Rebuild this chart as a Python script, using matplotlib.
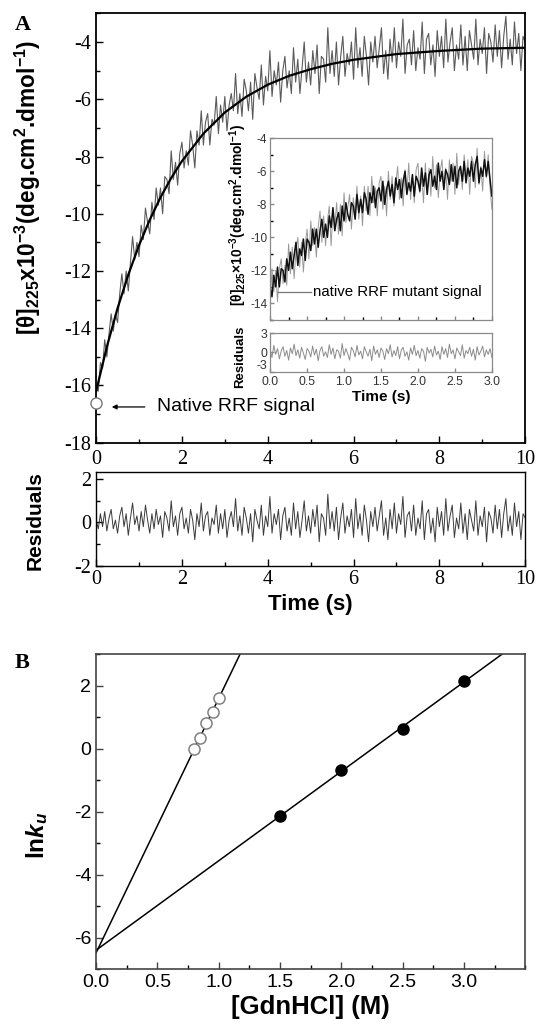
import numpy as np
import matplotlib.pyplot as plt
from matplotlib.ticker import MultipleLocator

plt.rcParams['font.family'] = ['Liberation Sans', 'DejaVu Sans']
plt.rcParams['axes.unicode_minus'] = False
plt.rcParams['mathtext.fontset'] = 'custom'
plt.rcParams['mathtext.rm'] = 'Liberation Sans'
plt.rcParams['mathtext.it'] = 'Liberation Sans:italic'
plt.rcParams['mathtext.bf'] = 'Liberation Sans:bold'
plt.rcParams['mathtext.bfit'] = 'Liberation Sans:italic:bold'

SERIF = 'Liberation Serif'

# ---- panel A: unfolding trace of native RRF (0-10 s) ----
time_a = np.linspace(0, 10, 201)
trace_a = [
    -16.1, -16.2, -15.2, -15.4, -14.4, -15.0, -14.2, -13.5, -14.1, -13.5,
    -13.8, -12.8, -12.1, -12.8, -12.0, -12.7, -11.7, -10.8, -11.6, -11.0,
    -11.5, -10.4, -10.9, -9.8, -10.3, -10.7, -9.6, -10.2, -9.1, -9.7,
    -9.1, -10.0, -8.7, -8.8, -9.3, -7.8, -8.8, -8.2, -9.0, -7.9,
    -7.5, -8.4, -7.8, -8.3, -7.1, -7.6, -8.4, -7.1, -7.6, -6.4,
    -7.6, -6.8, -6.5, -7.6, -6.7, -6.9, -5.9, -7.2, -6.2, -6.8,
    -5.9, -7.1, -6.2, -5.8, -6.4, -5.1, -6.5, -5.8, -6.6, -5.3,
    -5.7, -6.4, -5.4, -6.7, -5.1, -5.6, -6.0, -4.8, -6.2, -5.2,
    -5.7, -4.3, -5.9, -5.0, -5.5, -4.7, -6.1, -5.0, -4.5, -5.6,
    -5.0, -5.8, -4.2, -5.4, -4.6, -5.8, -4.9, -4.0, -5.4, -4.7,
    -5.5, -4.3, -5.1, -4.1, -5.8, -4.5, -4.6, -5.4, -3.5, -5.1,
    -4.3, -5.2, -4.0, -5.5, -4.5, -3.8, -5.2, -4.4, -4.8, -4.0,
    -5.3, -3.5, -4.9, -4.2, -5.2, -3.8, -4.5, -5.5, -4.0, -4.7,
    -3.8, -4.9, -4.2, -3.5, -5.1, -4.3, -5.3, -3.9, -4.7, -3.5,
    -4.9, -4.0, -4.5, -3.2, -5.1, -4.1, -3.9, -4.8, -3.6, -5.0,
    -4.2, -4.6, -3.3, -5.1, -3.9, -3.7, -4.8, -4.1, -5.2, -3.6,
    -4.5, -3.8, -4.9, -3.2, -4.7, -4.0, -3.5, -5.0, -4.1, -4.6,
    -3.4, -4.8, -3.8, -5.0, -3.6, -4.1, -4.6, -3.2, -4.8, -3.9,
    -4.4, -3.5, -5.1, -3.7, -4.0, -4.7, -3.4, -4.5, -3.6, -4.9,
    -3.8, -3.1, -4.6, -3.9, -4.8, -3.3, -4.4, -3.7, -5.0, -3.8,
    -4.0]
fit_t = [0, 0.25, 0.5, 0.75, 1, 1.25, 1.5, 1.75, 2, 2.5, 3, 3.5, 4, 4.5,
         5, 5.5, 6, 7, 8, 9, 10]
fit_y = [-16.2, -14.65, -13.3, -12.13, -11.1, -10.21, -9.43, -8.75, -8.16,
         -7.2, -6.46, -5.91, -5.49, -5.18, -4.95, -4.76, -4.62, -4.42, -4.31,
         -4.23, -4.2]
resid_a = [
    0.1, -0.3, 0.4, -0.2, 0.5, -0.4, 0.2, 0.6, -0.3, 0.1,
    -0.5, 0.3, 0.7, -0.2, 0.4, -0.6, 0.2, 0.9, -0.1, 0.3,
    -0.4, 0.5, -0.2, 0.8, 0.1, -0.5, 0.4, -0.3, 0.6, -0.1,
    0.3, -0.7, 0.5, 0.2, -0.4, 1.0, -0.2, 0.3, -0.6, 0.4,
    0.7, -0.3, 0.2, -0.5, 0.6, 0.1, -0.8, 0.4, -0.2, 0.9,
    -0.4, 0.3, 0.5, -0.6, 0.2, -0.1, 0.8, -0.5, 0.4, -0.3,
    0.6, -0.7, 0.1, 0.5, -0.2, 1.1, -0.4, 0.3, -0.6, 0.7,
    0.2, -0.5, 0.4, -0.9, 0.6, 0.1, -0.3, 0.8, -0.6, 0.3,
    -0.2, 1.2, -0.5, 0.4, -0.1, 0.6, -0.8, 0.3, 0.7, -0.4,
    0.2, -0.6, 0.9, -0.3, 0.5, -0.7, 0.1, 1.0, -0.4, 0.3,
    -0.5, 0.6, -0.2, 0.8, -0.9, 0.4, 0.2, -0.6, 1.3, -0.3,
    0.5, -0.4, 0.7, -0.8, 0.2, 0.9, -0.5, 0.3, -0.2, 0.6,
    -0.7, 1.1, -0.3, 0.4, -0.6, 0.8, 0.1, -0.9, 0.5, -0.2,
    0.7, -0.4, 0.3, 1.0, -0.6, 0.2, -0.8, 0.6, -0.3, 0.9,
    -0.5, 0.4, -0.1, 1.2, -0.7, 0.3, 0.5, -0.4, 0.8, -0.6,
    0.2, -0.3, 1.0, -0.8, 0.4, 0.6, -0.5, 0.2, -0.9, 0.7,
    -0.2, 0.5, -0.6, 1.1, -0.4, 0.3, 0.8, -0.7, 0.2, -0.3,
    0.9, -0.5, 0.4, -0.8, 0.6, 0.1, -0.4, 1.0, -0.6, 0.3,
    -0.2, 0.7, -0.9, 0.5, 0.2, -0.5, 0.8, -0.3, 0.6, -0.7,
    0.4, 1.1, -0.4, 0.3, -0.6, 0.9, -0.2, 0.5, -0.8, 0.4,
    0.2]
native_t = [0.0]
native_y = [-16.6]

# ---- inset: native RRF mutant (0-3 s) ----
time_i = np.linspace(0, 3, 121)
trace_i_gray = [
    -14.2, -11.9, -13.3, -12.0, -13.9, -11.9, -11.3, -12.8, -11.7, -12.9,
    -10.4, -12.2, -10.6, -12.5, -10.8, -10.0, -11.8, -10.3, -12.1, -10.4,
    -9.5, -11.3, -9.0, -10.5, -9.4, -11.2, -9.4, -8.4, -10.3, -8.7,
    -10.5, -9.0, -8.1, -10.5, -8.5, -9.3, -7.9, -9.8, -8.0, -9.9,
    -7.3, -9.1, -8.2, -7.4, -9.5, -7.6, -8.6, -6.9, -8.9, -7.5,
    -9.3, -6.9, -8.4, -6.9, -8.7, -6.3, -7.9, -7.0, -8.7, -6.7,
    -6.3, -8.3, -6.9, -8.7, -6.0, -7.7, -6.3, -8.1, -6.8, -5.7,
    -7.7, -6.4, -8.1, -5.9, -7.3, -5.5, -7.7, -6.3, -7.9, -5.9,
    -5.5, -7.3, -6.3, -7.9, -5.5, -7.4, -5.8, -7.5, -5.1, -7.0,
    -5.6, -7.6, -6.0, -5.3, -7.1, -5.8, -7.7, -5.3, -6.6, -5.5,
    -7.4, -4.9, -6.8, -5.7, -7.1, -5.0, -6.5, -5.3, -7.4, -5.1,
    -5.5, -7.0, -4.6, -6.8, -5.7, -7.2, -4.8, -6.4, -5.0, -7.0,
    -8.3]
trace_i_black = [
    -13.0, -13.6, -12.3, -13.0, -11.8, -13.0, -11.9, -12.0, -12.7, -11.3,
    -12.0, -10.9, -11.9, -11.1, -10.3, -11.7, -10.7, -11.1, -10.1, -11.4,
    -10.1, -10.3, -10.8, -9.5, -10.4, -9.5, -10.6, -9.6, -8.9, -10.0,
    -9.2, -10.0, -8.7, -9.4, -8.2, -9.6, -8.9, -8.5, -9.6, -8.1,
    -9.0, -7.9, -8.6, -9.0, -7.9, -8.1, -8.9, -7.4, -8.5, -7.7,
    -8.5, -7.3, -7.7, -8.6, -7.3, -7.9, -6.9, -8.2, -7.2, -7.0,
    -7.8, -6.6, -8.0, -7.1, -6.6, -7.5, -6.8, -7.9, -6.4, -7.1,
    -6.5, -7.6, -6.6, -6.0, -7.4, -6.7, -7.2, -6.2, -7.5, -6.3,
    -6.6, -7.2, -5.8, -6.9, -6.1, -7.4, -6.2, -5.9, -6.9, -6.3,
    -7.1, -5.5, -6.6, -6.0, -7.1, -5.9, -6.2, -6.8, -5.6, -6.6,
    -5.7, -7.0, -6.0, -5.7, -6.6, -5.4, -6.7, -5.8, -6.3, -5.4,
    -6.6, -5.6, -5.1, -6.7, -5.8, -6.3, -5.3, -6.3, -5.4, -6.5,
    -7.5]
resid_i = [
    0.4, -0.8, 1.1, -0.3, 0.6, -1.0, 0.2, 0.9, -0.6, 0.3,
    -1.2, 0.7, -0.2, 1.3, -0.5, 0.4, -0.9, 0.8, -0.1, -1.1,
    0.6, 0.2, -0.7, 1.0, -0.4, 0.5, -1.3, 0.3, 0.9, -0.6,
    0.1, -0.8, 1.2, -0.3, 0.7, -1.0, 0.4, 0.2, -0.9, 1.4,
    -0.5, 0.6, -0.2, -1.2, 0.8, 0.3, -0.7, 1.1, -0.4, 0.2,
    -1.0, 0.9, 0.1, -0.6, 0.5, -1.3, 1.0, -0.3, 0.4, -0.8,
    0.7, 0.2, -1.1, 0.6, -0.2, 1.2, -0.7, 0.3, -0.5, 0.9,
    -1.0, 0.4, 0.8, -0.6, 0.1, -1.2, 0.7, -0.3, 1.1, -0.5,
    0.3, -0.9, 0.6, 0.2, -1.4, 0.8, -0.1, 0.5, -0.7, 1.0,
    -0.4, 0.2, -1.1, 0.9, -0.3, 0.6, -0.8, 1.3, -0.2, 0.4,
    -1.0, 0.7, 0.1, -0.5, 1.2, -0.9, 0.3, -0.2, 0.8, -0.6,
    0.5, -1.2, 0.9, -0.4, 0.2, 1.0, -0.7, 0.4, -0.3, 0.6,
    -0.8]

# ---- panel B: ln ku vs [GdnHCl] ----
gdn_mut = [0.80, 0.85, 0.90, 0.95, 1.00]
lnk_mut = [0.0, 0.35, 0.82, 1.17, 1.61]
gdn_wt = [1.5, 2.0, 2.5, 3.0]
lnk_wt = [-2.15, -0.67, 0.63, 2.15]


def style_ticks(ax, size, family=None, major=5, minor=3):
    ax.tick_params(which='both', direction='in', top=False, right=False)
    ax.tick_params(which='major', length=major, width=1, labelsize=size)
    ax.tick_params(which='minor', length=minor, width=1)
    if family:
        for lab in ax.get_xticklabels() + ax.get_yticklabels():
            lab.set_family(family)


fig = plt.figure(figsize=(5.37, 10.32), dpi=100)

# main trace
axA = fig.add_axes([0.179, 0.571, 0.799, 0.416])
axA.plot(time_a, trace_a, color='#5a5a5a', lw=0.8)
axA.plot(fit_t, fit_y, color='black', lw=1.6)
axA.plot(native_t, native_y, 'o', ms=8, mfc='white', mec='#777777',
         mew=1, clip_on=False, zorder=5)
axA.set_xlim(0, 10)
axA.set_ylim(-18, -3)
axA.xaxis.set_major_locator(MultipleLocator(2))
axA.xaxis.set_minor_locator(MultipleLocator(1))
axA.yaxis.set_major_locator(MultipleLocator(2))
axA.yaxis.set_minor_locator(MultipleLocator(1))
style_ticks(axA, 14.5, SERIF)
axA.tick_params(axis='x', pad=5)
for s in axA.spines.values():
    s.set_linewidth(1.3)
axA.annotate('', xy=(0.3, -16.75), xytext=(1.2, -16.75),
             arrowprops=dict(arrowstyle='-|>', color='black', lw=0.9,
                             mutation_scale=7))
axA.text(1.42, -16.75, 'Native RRF signal', fontsize=14, va='center')

# main residuals
axR = fig.add_axes([0.179, 0.452, 0.799, 0.091])
axR.plot(time_a, resid_a, color='#3a3a3a', lw=0.7)
axR.set_xlim(0, 10)
axR.set_ylim(-2, 2.35)
axR.set_yticks([-2, 0, 2])
axR.xaxis.set_major_locator(MultipleLocator(2))
axR.xaxis.set_minor_locator(MultipleLocator(1))
axR.yaxis.set_minor_locator(MultipleLocator(1))
style_ticks(axR, 14.5, SERIF)
for s in axR.spines.values():
    s.set_linewidth(1.0)

# inset trace
inset_col = '#8a8a8a'
axI = fig.add_axes([0.503, 0.690, 0.413, 0.176])
axI.plot(time_i, trace_i_gray, color='#999999', lw=0.7)
axI.plot(time_i, trace_i_black, color='#111111', lw=1.1)
axI.set_xlim(0, 3)
axI.set_ylim(-15, -4)
axI.set_yticks([-14, -12, -10, -8, -6, -4])
axI.xaxis.set_major_locator(MultipleLocator(0.5))
axI.xaxis.set_minor_locator(MultipleLocator(0.25))
axI.yaxis.set_minor_locator(MultipleLocator(1))
axI.set_xticklabels([])
style_ticks(axI, 8.5, major=3, minor=2)
axI.tick_params(colors=inset_col, labelcolor='#333333', pad=2)
for s in axI.spines.values():
    s.set_color(inset_col)
    s.set_linewidth(0.9)
axI.plot([0.1, 0.55], [-13.3, -13.3], color='#777777', lw=0.9)
axI.text(0.58, -13.3, 'native RRF mutant signal', fontsize=10.8,
         va='center')

# inset residuals
axIR = fig.add_axes([0.503, 0.640, 0.413, 0.037])
axIR.plot(time_i, resid_i, color='#8c8c8c', lw=0.7)
axIR.set_xlim(0, 3)
axIR.set_ylim(-3, 3)
axIR.set_yticks([-3, 0, 3])
axIR.xaxis.set_major_locator(MultipleLocator(0.5))
style_ticks(axIR, 8.8, major=3, minor=2)
axIR.tick_params(colors=inset_col, labelcolor='#333333', pad=2)
axIR.tick_params(axis='x', pad=3.5)
axIR.yaxis.get_major_ticks()[0].label1.set_va('bottom')
for s in axIR.spines.values():
    s.set_color(inset_col)
    s.set_linewidth(0.9)
axIR.set_xlabel('Time (s)', fontsize=11, fontweight='bold', labelpad=1)

# panel B
axB = fig.add_axes([0.179, 0.061, 0.799, 0.305])
xs = np.array([0, 3.5])
k1 = np.polyfit(gdn_mut, lnk_mut, 1)
k2 = np.polyfit(gdn_wt, lnk_wt, 1)
axB.plot(xs, np.polyval(k1, xs), color='black', lw=1.1)
axB.plot(xs, np.polyval(k2, xs), color='black', lw=1.1)
axB.plot(gdn_mut, lnk_mut, 'o', ms=8, mfc='white', mec='#808080', mew=1.1)
axB.plot(gdn_wt, lnk_wt, 'o', ms=8, color='black')
axB.set_xlim(0, 3.5)
axB.set_ylim(-7, 3)
axB.set_xticks([0, 0.5, 1.0, 1.5, 2.0, 2.5, 3.0])
axB.xaxis.set_minor_locator(MultipleLocator(0.25))
axB.set_yticks([-6, -4, -2, 0, 2])
axB.yaxis.set_minor_locator(MultipleLocator(1))
style_ticks(axB, 14)
axB.tick_params(colors='#444444', labelcolor='black')
for s in axB.spines.values():
    s.set_color('#444444')
    s.set_linewidth(1.2)
axB.set_xlabel('[GdnHCl] (M)', fontsize=18.5, fontweight='bold', labelpad=3)

# labels drawn in figure coordinates
fig.text(0.052, 0.818,
         r'[θ]$_{\mathbf{225}}$x10$^{\mathbf{-3}}$(deg.cm$^{\mathbf{2}}$.dmol$^{\mathbf{-1}}$)',
         rotation=90, ha='center', va='center', fontsize=16.3,
         fontweight='bold')
fig.text(0.065, 0.496, 'Residuals', rotation=90, ha='center', va='center',
         fontsize=15, fontweight='bold')
fig.text(0.578, 0.414, 'Time (s)', ha='center', va='center', fontsize=16,
         fontweight='bold')
fig.text(0.444, 0.792,
         r'[θ]$_{\mathbf{225}}$×10$^{\mathbf{-3}}$(deg.cm$^{\mathbf{2}}$.dmol$^{\mathbf{-1}}$)',
         rotation=90, ha='center', va='center', fontsize=10,
         fontweight='bold')
fig.text(0.447, 0.654, 'Residuals', rotation=90, ha='center', va='center',
         fontsize=9.5, fontweight='bold')
fig.text(0.069, 0.191, r'ln$\mathbfit{k}_{\mathbfit{u}}$', rotation=90,
         ha='center', va='center', fontsize=17.5, fontweight='bold')
fig.text(0.028, 0.976, 'A', fontsize=16, fontweight='bold', family=SERIF,
         ha='left', va='center')
fig.text(0.028, 0.358, 'B', fontsize=16, fontweight='bold', family=SERIF,
         ha='left', va='center')

fig.savefig('out.png', dpi=100)
